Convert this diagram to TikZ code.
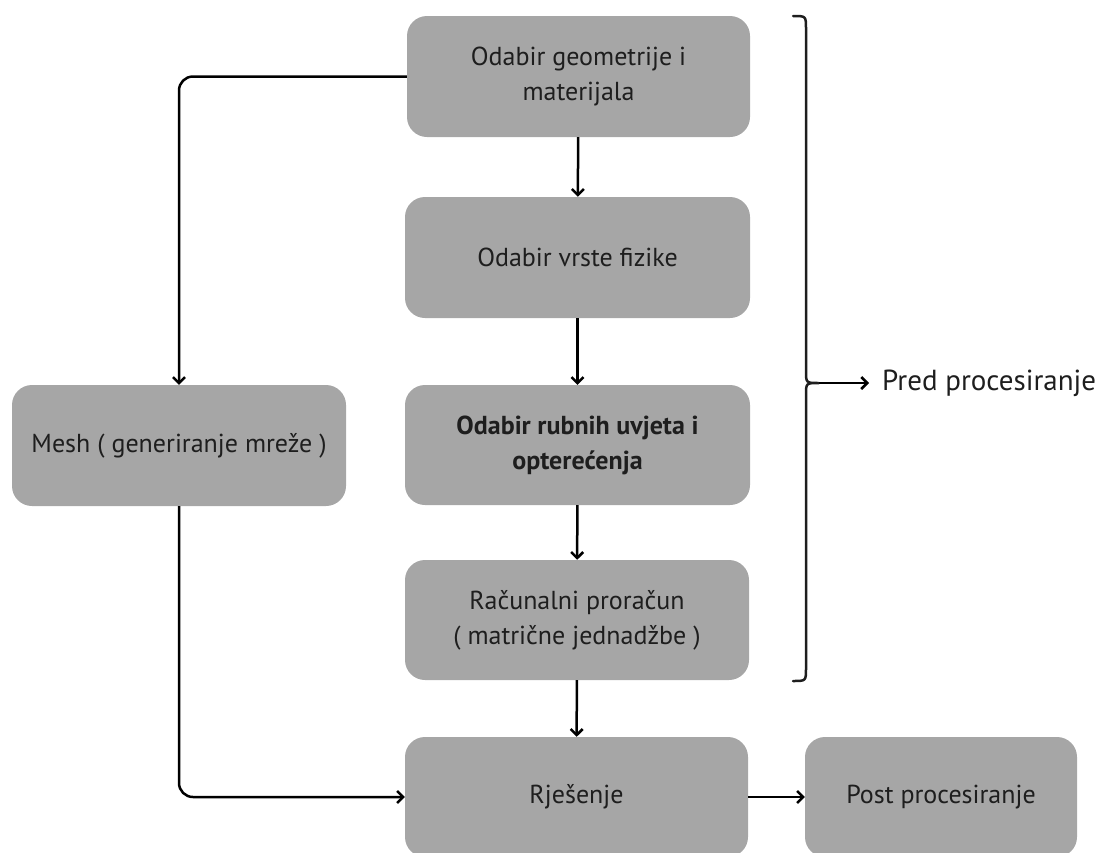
\documentclass[tikz,border=0pt]{standalone}
\usepackage{fontspec}
\setmainfont{PT Sans}
\usetikzlibrary{arrows.meta,positioning}
\definecolor{boxgray}{HTML}{A6A6A6}
\definecolor{ink}{HTML}{1E1E1E}
\tikzset{
  korak/.style={rectangle,rounded corners=20pt,fill=boxgray,text=ink,
    align=center,font=\fontsize{26}{35}\selectfont,inner sep=0pt},
  strelica/.style={line width=2.5pt,-{Straight Barb[length=6pt,width=12pt,line width=2.5pt]}}
}
\begin{document}
\begin{tikzpicture}[x=1pt,y=-1pt]
    \useasboundingbox (0,0) rectangle (1105,852);
    % glavni tok
    \node[korak,minimum width=343pt,minimum height=121pt] (geom) at (578.5,76.5)
      {Odabir geometrije i\\materijala};
    \node[korak,minimum width=345pt,minimum height=121pt] (fizika) at (577.5,257.5)
      {Odabir vrste fizike};
    \node[korak,minimum width=345pt,minimum height=120pt] (rubni) at (577.5,445)
      {\bfseries Odabir rubnih uvjeta i\\\bfseries opterećenja};
    \node[korak,minimum width=344pt,minimum height=120pt] (racun) at (577,620)
      {Računalni proračun\\( matrične jednadžbe )};
    \node[korak,minimum width=343pt,minimum height=120pt] (rjesenje) at (576.5,797)
      {Rješenje};
    \node[korak,minimum width=272pt,minimum height=120pt] (post) at (941,797)
      {Post procesiranje};
    \node[korak,minimum width=334pt,minimum height=121pt] (mesh) at (179,445.5)
      {Mesh ( generiranje mreže )};
    \draw[strelica] (geom) -- (fizika);
    \draw[strelica] (fizika) -- (rubni);
    \draw[strelica] (rubni) -- (racun);
    \draw[strelica] (racun) -- (rjesenje);
    \draw[strelica] (rjesenje) -- (post);
    % mreza
    \draw[strelica,rounded corners=14pt] (geom.west) -| (mesh.north);
    \draw[strelica,rounded corners=14pt] (mesh.south) |- (rjesenje.west);
    % viticasta zagrada
    \coordinate (zgore) at (793,16);
    \coordinate (zdolje) at (793,681);
    \coordinate (vrh) at (819,383);
    \draw[line width=2.5pt,line cap=round,ink]
      (zgore) .. controls (806,16) .. (806,29) -- (806,371)
      .. controls (806,383) .. (vrh)
      .. controls (806,383) .. (806,395) -- (806,668)
      .. controls (806,681) .. (zdolje);
    \node[text=ink,font=\fontsize{29}{35}\selectfont,anchor=west,
      inner xsep=13pt,inner ysep=0pt] (pred) at (869,383) {Pred procesiranje};
    \draw[strelica] (vrh) -- (pred.west);
  \end{tikzpicture}
\end{document}
